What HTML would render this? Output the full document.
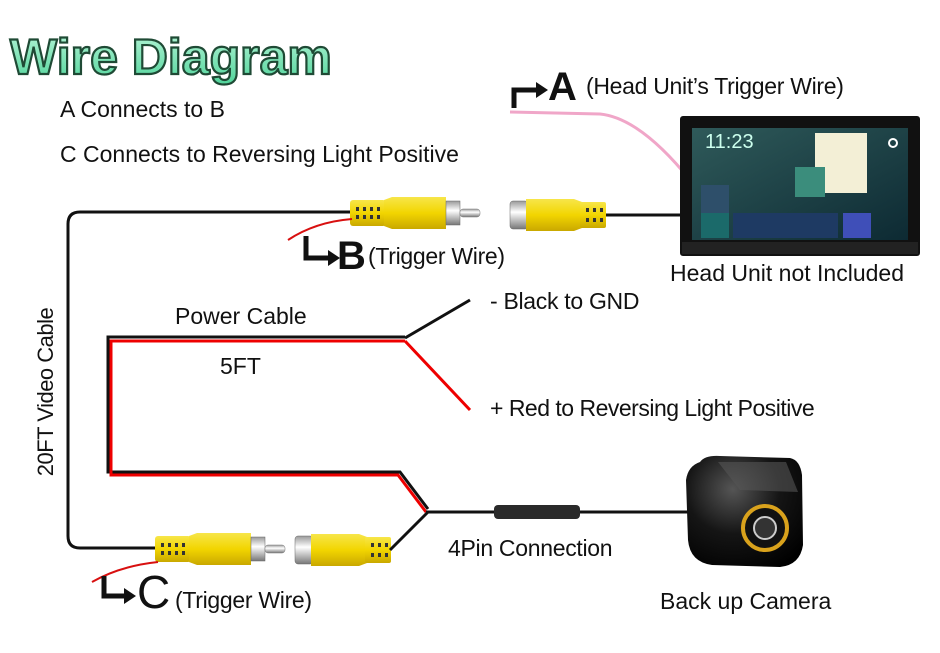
<!DOCTYPE html>
<html><head><meta charset="utf-8"><style>
html,body{margin:0;padding:0;background:#fff;}
svg{display:block;}
text{font-family:"Liberation Sans",sans-serif;fill:#111;}
</style></head><body>
<svg width="940" height="653" viewBox="0 0 940 653" xmlns="http://www.w3.org/2000/svg">
<defs>
<linearGradient id="tg" x1="0" y1="0" x2="0" y2="1"><stop offset="0" stop-color="#b8f5d8"/><stop offset="1" stop-color="#4fd49a"/></linearGradient>
<linearGradient id="yl" x1="0" y1="0" x2="0" y2="1"><stop offset="0" stop-color="#f7e64a"/><stop offset="0.5" stop-color="#f2d500"/><stop offset="1" stop-color="#c9a800"/></linearGradient>
<linearGradient id="mt" x1="0" y1="0" x2="0" y2="1"><stop offset="0" stop-color="#999"/><stop offset="0.4" stop-color="#fff"/><stop offset="1" stop-color="#777"/></linearGradient>
<linearGradient id="scr" x1="0" y1="0" x2="1" y2="1"><stop offset="0" stop-color="#2f5a5a"/><stop offset="1" stop-color="#0d2a33"/></linearGradient>
<radialGradient id="cam" cx="0.4" cy="0.3" r="0.8"><stop offset="0" stop-color="#555"/><stop offset="0.5" stop-color="#151515"/><stop offset="1" stop-color="#000"/></radialGradient>
<g id="male">
 <rect x="0" y="-13" width="36" height="26" rx="3" fill="url(#yl)"/>
 <rect x="6" y="-6" width="3" height="4" fill="#333"/><rect x="13" y="-6" width="3" height="4" fill="#333"/><rect x="20" y="-6" width="3" height="4" fill="#333"/><rect x="27" y="-6" width="3" height="4" fill="#333"/>
 <rect x="6" y="2" width="3" height="4" fill="#333"/><rect x="13" y="2" width="3" height="4" fill="#333"/><rect x="20" y="2" width="3" height="4" fill="#333"/><rect x="27" y="2" width="3" height="4" fill="#333"/>
 <path d="M34,-13 L42,-16 L96,-16 L96,16 L42,16 L34,13 Z" fill="url(#yl)"/>
 <rect x="96" y="-12" width="14" height="24" fill="url(#mt)" stroke="#666" stroke-width="0.5"/>
 <rect x="110" y="-4" width="20" height="8" rx="3" fill="url(#mt)" stroke="#777" stroke-width="0.5"/>
</g>
<g id="female">
 <rect x="0" y="-14" width="18" height="28" rx="3" fill="url(#mt)" stroke="#666" stroke-width="0.5"/>
 <path d="M16,-16 L64,-16 L72,-13 L72,13 L64,16 L16,16 Z" fill="url(#yl)"/>
 <rect x="70" y="-13" width="26" height="26" rx="2" fill="url(#yl)"/>
 <rect x="76" y="-7" width="3" height="4" fill="#333"/><rect x="83" y="-7" width="3" height="4" fill="#333"/><rect x="90" y="-7" width="3" height="4" fill="#333"/>
 <rect x="76" y="3" width="3" height="4" fill="#333"/><rect x="83" y="3" width="3" height="4" fill="#333"/><rect x="90" y="3" width="3" height="4" fill="#333"/>
</g>
</defs>

<!-- Title -->
<text x="10" y="74" font-size="50" font-weight="bold" stroke="#1f4a35" stroke-width="2.2" style="fill:url(#tg)">Wire Diagram</text>
<text x="60" y="117" font-size="23">A Connects to B</text>
<text x="60" y="162" font-size="23">C Connects to Reversing Light Positive</text>

<!-- video cable -->
<path d="M352,212 L80,212 Q68,212 68,224 L68,536 Q68,548 80,548 L158,548" fill="none" stroke="#111" stroke-width="3"/>
<line x1="605" y1="215" x2="685" y2="215" stroke="#111" stroke-width="3"/>
<use href="#male" x="350" y="213"/>
<use href="#female" x="510" y="215"/>
<!-- B trigger -->
<path d="M288,240 Q315,222 352,219" fill="none" stroke="#d81010" stroke-width="2"/>
<path d="M306,236 L306,258 L330,258" fill="none" stroke="#111" stroke-width="5"/>
<path d="M328,250 L340,258 L328,266 Z" fill="#111"/>
<text x="337" y="269" font-size="40" font-weight="bold">B</text>
<text x="368" y="264" font-size="23" letter-spacing="-0.3">(Trigger Wire)</text>

<!-- A -->
<path d="M510,112 L600,114 Q640,118 690,180" fill="none" stroke="#f0a6c8" stroke-width="3"/>
<path d="M514,108 L514,90 L538,90" fill="none" stroke="#111" stroke-width="5"/>
<path d="M536,82 L548,90 L536,98 Z" fill="#111"/>
<text x="548" y="100" font-size="40" font-weight="bold">A</text>
<text x="586" y="94" font-size="23" letter-spacing="-0.3">(Head Unit’s Trigger Wire)</text>

<!-- Head unit -->
<rect x="680" y="116" width="240" height="140" rx="3" fill="#111"/>
<rect x="692" y="128" width="216" height="112" fill="url(#scr)"/>
<text x="705" y="148" font-size="20" style="fill:#cfe">11:23</text>
<rect x="815" y="133" width="52" height="60" fill="#f3efd6"/>
<rect x="795" y="167" width="30" height="30" fill="#3b8d7c"/>
<rect x="701" y="185" width="28" height="28" fill="#2e4f6a"/>
<rect x="701" y="213" width="28" height="25" fill="#1b6a6a"/>
<rect x="733" y="213" width="105" height="25" fill="#1e3a63"/>
<rect x="843" y="213" width="28" height="25" fill="#3f4fb8"/>
<circle cx="893" cy="143" r="4" fill="none" stroke="#fff" stroke-width="2"/>
<rect x="682" y="242" width="236" height="12" fill="#222"/>
<text x="670" y="281" font-size="23">Head Unit not Included</text>

<!-- power cable -->
<path d="M405,337 L108,337 L108,472 L400,472 L428,509" fill="none" stroke="#111" stroke-width="3"/>
<path d="M405,341 L111,341 L111,475 L398,475 L426,512" fill="none" stroke="#e00" stroke-width="3"/>
<line x1="405" y1="338" x2="470" y2="300" stroke="#111" stroke-width="3"/>
<line x1="405" y1="341" x2="470" y2="410" stroke="#e00" stroke-width="3"/>
<text x="175" y="324" font-size="23">Power Cable</text>
<text x="220" y="374" font-size="23">5FT</text>
<text x="490" y="309" font-size="23" letter-spacing="-0.3">- Black to GND</text>
<text x="490" y="416" font-size="23" letter-spacing="-0.5">+ Red to Reversing Light Positive</text>

<!-- bottom connectors -->
<use href="#male" x="155" y="549"/>
<use href="#female" x="295" y="550"/>
<line x1="390" y1="550" x2="428" y2="512" stroke="#111" stroke-width="3"/>
<line x1="426" y1="512" x2="700" y2="512" stroke="#111" stroke-width="3"/>
<rect x="494" y="505" width="86" height="14" rx="4" fill="#2a2a2a"/>
<text x="448" y="556" font-size="23" letter-spacing="-0.3">4Pin Connection</text>

<!-- C -->
<path d="M92,582 Q120,566 158,562" fill="none" stroke="#d81010" stroke-width="2"/>
<path d="M104,576 L104,596 L126,596" fill="none" stroke="#111" stroke-width="5"/>
<path d="M124,588 L136,596 L124,604 Z" fill="#111"/>
<text x="137" y="608" font-size="46">C</text>
<text x="175" y="608" font-size="23" letter-spacing="-0.3">(Trigger Wire)</text>

<!-- camera -->
<path d="M700,462 Q705,455 720,456 L790,458 Q800,460 802,475 L803,545 Q800,565 780,567 L712,565 Q690,562 688,540 L686,480 Q688,466 700,462 Z" fill="url(#cam)"/>
<path d="M718,462 L786,462 L798,492 L740,490 Z" fill="#555" opacity="0.6"/>
<circle cx="765" cy="528" r="22" fill="#111" stroke="#d9a21c" stroke-width="4"/>
<circle cx="765" cy="528" r="11" fill="#333" stroke="#ccc" stroke-width="2"/>
<text x="660" y="609" font-size="23">Back up Camera</text>

<!-- vertical label -->
<text transform="translate(53,392) rotate(-90)" text-anchor="middle" font-size="22" letter-spacing="-0.5">20FT Video Cable</text>
</svg>
</body></html>
